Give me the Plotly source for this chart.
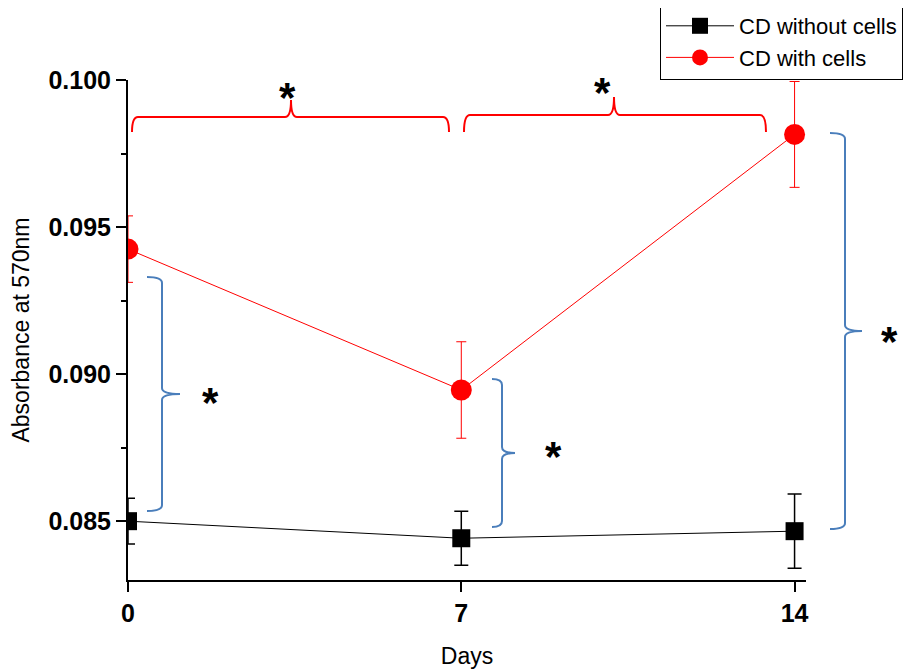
import plotly.graph_objects as go

days = [0, 7, 14]
without_cells = [0.0850, 0.08442, 0.08466]
without_err = [0.00078, 0.00092, 0.00126]
with_cells = [0.09425, 0.08946, 0.09815]
with_err = [0.00113, 0.00164, 0.00180]
x_ticks = [0, 7, 14]
y_ticks = [0.085, 0.090, 0.095, 0.100]
y_ticktext = ["0.085", "0.090", "0.095", "0.100"]

# page has an 8px body margin, so the figure is drawn 8px in from the top-left
OFF = 8
W, H = 923 - OFF, 670 - OFF
# plot box in page pixels
PL, PT, PR, PB = 128, 80, 806, 580
PW, PH = PR - PL, PB - PT
FONT = "Liberation Sans, Arial, sans-serif"


def px(x):
    return (x - PL) / PW


def py(y):
    return (PB - y) / PH


def hbrace(x0, x1, xm, yl, yt, ye, r=6):
    pts = [
        f"M {px(x0)},{py(ye)}",
        f"Q {px(x0)},{py(yl)} {px(x0 + r)},{py(yl)}",
        f"L {px(xm - r)},{py(yl)}",
        f"Q {px(xm)},{py(yl)} {px(xm)},{py(yt)}",
        f"Q {px(xm)},{py(yl)} {px(xm + r)},{py(yl)}",
        f"L {px(x1 - r)},{py(yl)}",
        f"Q {px(x1)},{py(yl)} {px(x1)},{py(ye)}",
    ]
    return " ".join(pts)


def vbrace(xe, xl, xt, y0, ym, y1, r=6):
    pts = [
        f"M {px(xe)},{py(y0)}",
        f"Q {px(xl)},{py(y0)} {px(xl)},{py(y0 + r)}",
        f"L {px(xl)},{py(ym - r)}",
        f"Q {px(xl)},{py(ym)} {px(xt)},{py(ym)}",
        f"Q {px(xl)},{py(ym)} {px(xl)},{py(ym + r)}",
        f"L {px(xl)},{py(y1 - r)}",
        f"Q {px(xl)},{py(y1)} {px(xe)},{py(y1)}",
    ]
    return " ".join(pts)


fig = go.Figure()
fig.add_trace(go.Scatter(
    x=days, y=without_cells, name="CD without cells", mode="lines+markers",
    line=dict(color="black", width=1),
    marker=dict(symbol="square", size=18, color="black"),
    error_y=dict(type="data", array=without_err, color="black", thickness=1.5, width=7),
))
fig.add_trace(go.Scatter(
    x=days, y=with_cells, name="CD with cells", mode="lines+markers",
    line=dict(color="red", width=1),
    marker=dict(symbol="circle", size=21, color="red"),
    error_y=dict(type="data", array=with_err, color="red", thickness=1, width=5),
))

red = "#FF0000"
blue = "#4A7EBB"
shapes = [
    dict(type="path", xref="paper", yref="paper", path=hbrace(132, 449, 291, 117, 100, 132), line=dict(color=red, width=2)),
    dict(type="path", xref="paper", yref="paper", path=hbrace(464, 766, 614, 115, 97, 132), line=dict(color=red, width=2)),
    dict(type="path", xref="paper", yref="paper", path=vbrace(147, 162, 180, 277, 394, 511), line=dict(color=blue, width=2)),
    dict(type="path", xref="paper", yref="paper", path=vbrace(492, 502, 515, 379, 453, 527), line=dict(color=blue, width=2)),
    dict(type="path", xref="paper", yref="paper", path=vbrace(830, 845, 862, 133, 331, 529), line=dict(color=blue, width=2)),
]

stars = [(287, 88), (602, 83), (210, 393), (553, 447), (889, 332)]
annotations = [
    dict(x=px(sx), y=py(sy + 9), xref="paper", yref="paper", text="*", showarrow=False,
         font=dict(family=FONT, size=42, color="black", weight="bold"),
         xanchor="center", yanchor="middle")
    for sx, sy in stars
]

fig.update_layout(
    width=W, height=H,
    margin=dict(l=PL - OFF, r=W - (PR - OFF), t=PT - OFF, b=H - (PB - OFF), autoexpand=False),
    paper_bgcolor="white", plot_bgcolor="white",
    font=dict(family=FONT, color="black"),
    showlegend=True,
    legend=dict(
        x=px(660), y=py(4), xanchor="left", yanchor="top",
        bordercolor="black", borderwidth=1, bgcolor="white",
        font=dict(family=FONT, size=22, color="black"),
        tracegroupgap=0, itemwidth=68,
    ),
    shapes=shapes,
    annotations=annotations,
    xaxis=dict(
        range=[0, 14.24], tickvals=x_ticks, ticks="outside", ticklen=10, tickwidth=2,
        tickcolor="black", showline=True, linecolor="black", linewidth=2,
        showgrid=False, zeroline=False,
        tickfont=dict(family=FONT, size=25, color="black", weight="bold"),
        title=dict(text="Days", font=dict(family=FONT, size=23, color="black"), standoff=22),
    ),
    yaxis=dict(
        range=[0.083, 0.100], tickvals=y_ticks, ticktext=y_ticktext, ticks="outside",
        ticklen=10, tickwidth=2, tickcolor="black",
        minor=dict(dtick=0.0025, tick0=0.0825, ticks="outside", ticklen=5, tickwidth=2, tickcolor="black"),
        showline=True, linecolor="black", linewidth=2,
        showgrid=False, zeroline=False,
        tickfont=dict(family=FONT, size=25, color="black", weight="bold"),
        title=dict(text="Absorbance at 570nm", font=dict(family=FONT, size=23, color="black"), standoff=15),
    ),
)

fig.write_html("out.html")
